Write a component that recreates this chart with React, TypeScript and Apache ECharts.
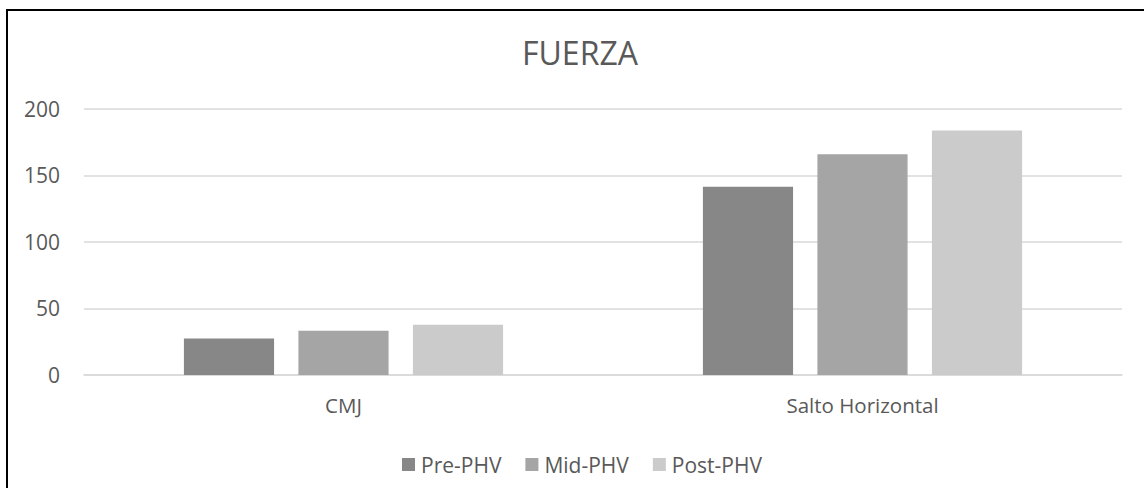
import React, { useEffect, useRef } from "react";
import * as echarts from "echarts";

const categories = ["CMJ", "Salto Horizontal"];
const seriesNames = ["Pre-PHV", "Mid-PHV", "Post-PHV"];
const preValues = [27.5, 141.4];
const midValues = [33.3, 165.7];
const postValues = [37.8, 183.7];
const colors = ["#878787", "#a5a5a5", "#cbcbcb"];
const yTicks = { min: 0, max: 200, interval: 50 };

export default function App() {
  const ref = useRef<HTMLDivElement>(null);
  useEffect(() => {
    if (!ref.current) return;
    const chart = echarts.init(ref.current, undefined, { renderer: "svg" });
    const font = "Open Sans";
    const data = [preValues, midValues, postValues];
    chart.setOption({
      animation: false,
      backgroundColor: "#ffffff",
      title: {
        text: "FUERZA",
        left: 522,
        top: 36,
        padding: 0,
        textStyle: { fontFamily: font, fontSize: 32, fontWeight: "normal", color: "#595959" },
      },
      legend: {
        bottom: 13,
        left: 402,
        padding: 0,
        itemWidth: 13,
        itemHeight: 13,
        itemGap: 24,
        icon: "rect",
        textStyle: { fontFamily: font, fontSize: 21, color: "#595959", padding: [0, 0, 0, 1] },
        data: seriesNames,
      },
      grid: { left: 84, right: 22, top: 108.7, bottom: 113, containLabel: false },
      xAxis: {
        type: "category",
        data: categories,
        axisLine: { show: true, lineStyle: { color: "#d9d9d9", width: 1.5 } },
        axisTick: { show: false },
        axisLabel: { fontFamily: font, fontSize: 20.5, color: "#595959", margin: 19 },
      },
      yAxis: {
        type: "value",
        min: yTicks.min,
        max: yTicks.max,
        interval: yTicks.interval,
        axisLine: { show: false },
        axisTick: { show: false },
        axisLabel: { fontFamily: font, fontSize: 21, color: "#595959", margin: 24 },
        splitLine: { lineStyle: { color: "#d9d9d9", width: 1.5 } },
      },
      series: seriesNames.map((name, i) => ({
        name,
        type: "bar",
        data: data[i],
        barGap: "27%",
        barCategoryGap: "38.5%",
        itemStyle: { color: colors[i] },
      })),
      graphic: [
        { type: "line", shape: { x1: 6, y1: 10, x2: 1144, y2: 10 }, style: { stroke: "#000", lineWidth: 2 } },
        { type: "line", shape: { x1: 7, y1: 9, x2: 7, y2: 488 }, style: { stroke: "#000", lineWidth: 2 } },
      ],
    });
    return () => chart.dispose();
  }, []);
  return (
    <div
      ref={ref}
      style={{ position: "fixed", left: 0, top: 0, width: 1144, height: 488 }}
    />
  );
}
